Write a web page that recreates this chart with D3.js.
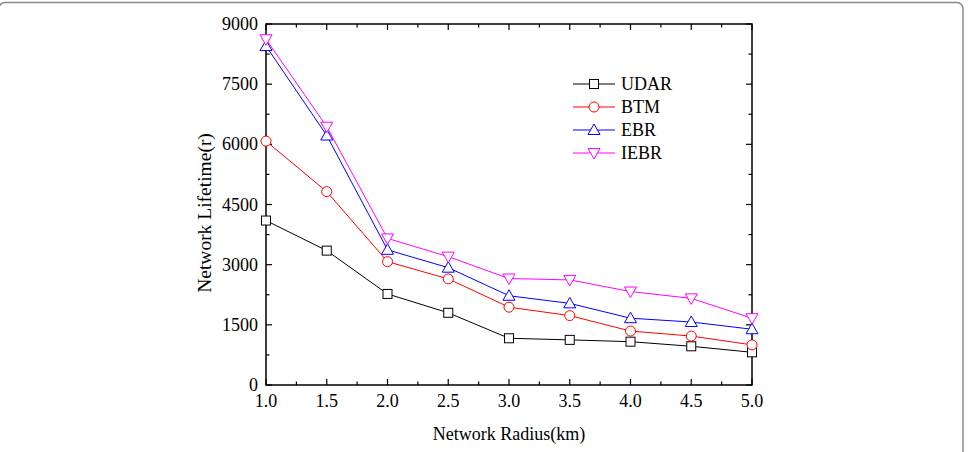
<!DOCTYPE html>
<html>
<head>
<meta charset="utf-8">
<script src="https://cdn.jsdelivr.net/npm/d3@7"></script>
<style>
  body { margin: 0; background: #fff; }
  svg { display: block; }
  text { font-family: "Liberation Serif", "Times New Roman", serif; fill: #000; }
</style>
</head>
<body>
<div id="container"></div>
<script>
// chart data
const radius = [1.0, 1.5, 2.0, 2.5, 3.0, 3.5, 4.0, 4.5, 5.0];
const udar = [4100, 3350, 2270, 1800, 1165, 1125, 1080, 965, 815];
const btm  = [6080, 4820, 3075, 2645, 1940, 1730, 1345, 1220, 1000];
const ebr  = [8450, 6220, 3370, 2925, 2225, 2035, 1665, 1570, 1390];
const iebr = [8620, 6440, 3655, 3200, 2655, 2620, 2330, 2160, 1665];
const seriesNames = ["UDAR", "BTM", "EBR", "IEBR"];
const yTicks = [0, 1500, 3000, 4500, 6000, 7500, 9000];
const xTicks = [1.0, 1.5, 2.0, 2.5, 3.0, 3.5, 4.0, 4.5, 5.0];

const width = 968;
const height = 452;
const margin = { top: 24, right: 216, bottom: 67, left: 266 };

const series = [
    { name: seriesNames[0], values: udar, color: "#000000", shape: "square" },
    { name: seriesNames[1], values: btm,  color: "#ff0000", shape: "circle" },
    { name: seriesNames[2], values: ebr,  color: "#0000ff", shape: "up" },
    { name: seriesNames[3], values: iebr, color: "#ff00ff", shape: "down" }
];

const svg = d3.select("#container")
    .append("svg")
    .attr("width", width)
    .attr("height", height);

// outer frame (rounded, bottom runs off the picture)
svg.append("rect")
    .attr("x", -1).attr("y", 2.5)
    .attr("width", 964).attr("height", 480)
    .attr("rx", 6)
    .attr("fill", "none")
    .attr("stroke", "#8a8a8a")
    .attr("stroke-width", 1.5);

const x = d3.scaleLinear()
    .domain([1, 5])
    .range([margin.left, width - margin.right]);

const y = d3.scaleLinear()
    .domain([0, 9000])
    .range([height - margin.bottom, margin.top]);

const x0 = x.range()[0], x1 = x.range()[1];
const y0 = y.range()[0], y1 = y.range()[1];

const minorX = d3.range(1, 5.001, 0.25);
const minorY = d3.range(0, 9001, 750);

// ticks (inward, mirrored on top/right)
const tickG = svg.append("g").attr("stroke", "#000").attr("stroke-width", 1.2);
minorX.forEach(v => {
    const len = xTicks.some(t => Math.abs(t - v) < 1e-6) ? 6 : 3.5;
    tickG.append("line").attr("x1", x(v)).attr("x2", x(v)).attr("y1", y0).attr("y2", y0 - len);
    tickG.append("line").attr("x1", x(v)).attr("x2", x(v)).attr("y1", y1).attr("y2", y1 + len);
});
minorY.forEach(v => {
    const len = yTicks.includes(v) ? 6 : 3.5;
    tickG.append("line").attr("x1", x0).attr("x2", x0 + len).attr("y1", y(v)).attr("y2", y(v));
    tickG.append("line").attr("x1", x1).attr("x2", x1 - len).attr("y1", y(v)).attr("y2", y(v));
});

// frame of the plot
svg.append("rect")
    .attr("x", x0).attr("y", y1)
    .attr("width", x1 - x0).attr("height", y0 - y1)
    .attr("fill", "none")
    .attr("stroke", "#000")
    .attr("stroke-width", 1.5);

// tick labels
svg.append("g").selectAll("text")
    .data(xTicks)
    .join("text")
    .attr("x", d => x(d))
    .attr("y", y0 + 22)
    .attr("text-anchor", "middle")
    .style("font-size", "18px")
    .text(d => d.toFixed(1));

svg.append("g").selectAll("text")
    .data(yTicks)
    .join("text")
    .attr("x", x0 - 8)
    .attr("y", d => y(d) + 6)
    .attr("text-anchor", "end")
    .style("font-size", "18px")
    .text(d => d);

// axis titles
svg.append("text")
    .attr("x", (x0 + x1) / 2)
    .attr("y", 440)
    .attr("text-anchor", "middle")
    .style("font-size", "18px")
    .text("Network Radius(km)");

svg.append("text")
    .attr("transform", "translate(211, 213) rotate(-90)")
    .attr("text-anchor", "middle")
    .style("font-size", "19.5px")
    .text("Network Lifetime(r)");

function drawMarker(g, shape, cx, cy, color) {
    if (shape === "square") {
        g.append("rect").attr("x", cx - 4.5).attr("y", cy - 4.5).attr("width", 9).attr("height", 9)
            .attr("fill", "#fff").attr("stroke", color).attr("stroke-width", 1);
    } else if (shape === "circle") {
        g.append("circle").attr("cx", cx).attr("cy", cy).attr("r", 5)
            .attr("fill", "#fff").attr("stroke", color).attr("stroke-width", 1);
    } else if (shape === "up") {
        g.append("path").attr("d", `M${cx},${cy - 6}L${cx + 6},${cy + 4.5}L${cx - 6},${cy + 4.5}Z`)
            .attr("fill", "#fff").attr("stroke", color).attr("stroke-width", 1);
    } else {
        g.append("path").attr("d", `M${cx},${cy + 6}L${cx + 6},${cy - 4.5}L${cx - 6},${cy - 4.5}Z`)
            .attr("fill", "#fff").attr("stroke", color).attr("stroke-width", 1);
    }
}

const line = d3.line()
    .x((d, i) => x(radius[i]))
    .y(d => y(d));

const plot = svg.append("g");
series.forEach(s => {
    plot.append("path")
        .attr("d", line(s.values))
        .attr("fill", "none")
        .attr("stroke", s.color)
        .attr("stroke-width", 1);
});
series.forEach(s => {
    const g = plot.append("g");
    s.values.forEach((v, i) => drawMarker(g, s.shape, x(radius[i]), y(v), s.color));
});

// legend
const legend = svg.append("g");
series.forEach((s, i) => {
    const ly = 84 + i * 23;
    legend.append("line")
        .attr("x1", 573).attr("x2", 615)
        .attr("y1", ly).attr("y2", ly)
        .attr("stroke", s.color).attr("stroke-width", 1);
    drawMarker(legend, s.shape, 594, ly, s.color);
    legend.append("text")
        .attr("x", 621).attr("y", ly + 6)
        .style("font-size", "18px")
        .text(s.name);
});
</script>
</body>
</html>
